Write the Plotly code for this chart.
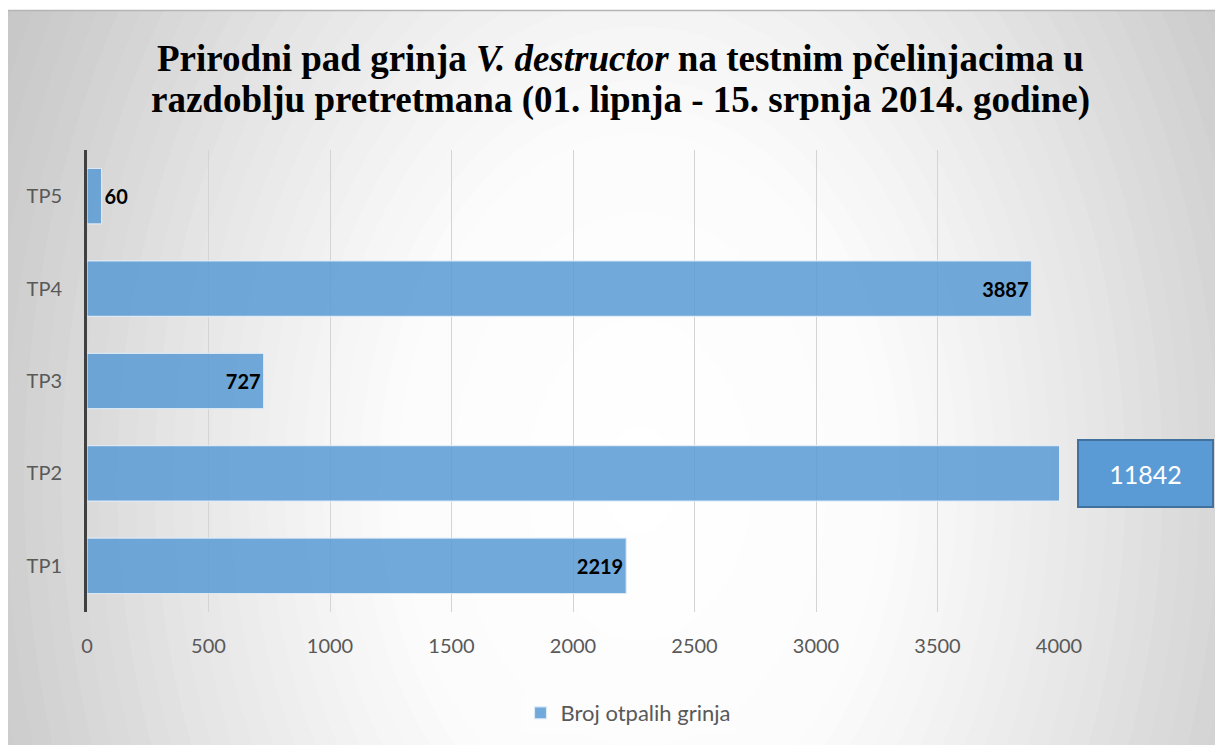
import plotly.graph_objects as go

# data
kosnice = ['TP1', 'TP2', 'TP3', 'TP4', 'TP5']
broj_grinja = [2219, 11842, 727, 3887, 60]
x_ticks = [0, 500, 1000, 1500, 2000, 2500, 3000, 3500, 4000]
x_max = 4000
naslov = ['<b>Prirodni pad grinja <i>V. destructor</i> na testnim pčelinjacima u</b>',
          '<b>razdoblju pretretmana (01. lipnja - 15. srpnja 2014. godine)</b>']

W, H = 1223, 745
OX, OY = 8, 8                      # page margin around the figure
L, R, T, B = 87, 1059, 150, 612   # plot area in screen pixels

def px_x(p):
    return (p - L) / (R - L)

def px_y(p):
    return (B - p) / (B - T)

# radial gradient background (ellipses, outer to inner)
stops = [(0.0, 255), (0.35, 252), (0.5, 243), (0.7, 227), (0.9, 209), (1.05, 197), (1.6, 193)]

def grey(r):
    for (r0, g0), (r1, g1) in zip(stops[:-1], stops[1:]):
        if r <= r1:
            return g0 + (g1 - g0) * (r - r0) / (r1 - r0)
    return stops[-1][1]

cx, cy, rx, ry = 640, 480, 700, 1000
shapes = []
n = 60
for i in range(n):
    r = 1.6 * (n - i) / n
    g = int(round(grey(r)))
    shapes.append(dict(type='circle', xref='paper', yref='paper', layer='below',
                       x0=px_x(cx - rx * r), x1=px_x(cx + rx * r),
                       y0=px_y(cy + ry * r), y1=px_y(cy - ry * r),
                       fillcolor=f'rgb({g},{g},{g})', line=dict(width=0)))
shapes.append(dict(type='rect', xref='paper', yref='paper', layer='below',
                   x0=px_x(0), x1=px_x(W + 20), y0=px_y(10), y1=px_y(0),
                   fillcolor='white', line=dict(width=0)))
shapes.append(dict(type='line', xref='paper', yref='paper', layer='below',
                   x0=px_x(8), x1=px_x(W + 20), y0=px_y(10.5), y1=px_y(10.5),
                   line=dict(color='#b5b5b5', width=1.5)))

labels = [str(v) if v <= x_max else '' for v in broj_grinja]
positions = ['outside' if v < 200 else 'inside' for v in broj_grinja]

fig = go.Figure()
fig.add_trace(go.Bar(
    x=broj_grinja, y=kosnice, orientation='h', name='Broj otpalih grinja',
    marker=dict(color='rgba(91,155,213,0.86)', line=dict(color='rgba(225,236,247,0.9)', width=1.2)),
    width=0.6, text=labels, textposition=positions, insidetextanchor='end',
    constraintext='none', cliponaxis=True,
    textfont=dict(family='Lato', size=20, color='black', weight='bold'),
))

# value of the bar that runs off the axis
for k, v in zip(kosnice, broj_grinja):
    if v > x_max:
        fig.add_annotation(x=px_x(1145), xref='paper', xanchor='center', y=k, yref='y',
                           yanchor='middle', text=str(v), showarrow=False, width=131, height=63,
                           bgcolor='#5b9bd5', bordercolor='#41719c', borderwidth=2,
                           font=dict(family='Lato', size=25, color='white'))

# title, two lines placed separately
for tekst, yy in zip(naslov, [58, 100]):
    fig.add_annotation(x=px_x(620), xref='paper', xanchor='center', y=px_y(yy), yref='paper',
                       yanchor='middle', text=tekst, showarrow=False,
                       font=dict(family='Liberation Serif', size=37, color='black'))

fig.update_layout(
    width=W, height=H,
    margin=dict(l=L - OX, r=W - (R - OX), t=T - OY, b=H - (B - OY)),
    paper_bgcolor='white', plot_bgcolor='rgba(0,0,0,0)',
    shapes=shapes,
    showlegend=True,
    legend=dict(orientation='h', xref='container', yref='container',
                x=(628 - OX) / W, xanchor='center', y=1 - (713 - OY) / H, yanchor='middle',
                bgcolor='rgba(255,255,255,0.25)',
                font=dict(family='Lato', size=22, color='#595959')),
)
fig.update_xaxes(range=[0, x_max], tickvals=x_ticks, showgrid=True, gridcolor='#d4d4d4', gridwidth=1,
                 zeroline=False, showline=False, ticklabelstandoff=20,
                 tickfont=dict(family='Lato', size=20, color='#595959'))
fig.update_yaxes(categoryorder='array', categoryarray=kosnice, showline=True, linecolor='#404040',
                 linewidth=3, showgrid=False, ticklabelstandoff=18,
                 tickfont=dict(family='Lato', size=20, color='#595959'))

fig.write_html("out.html")
